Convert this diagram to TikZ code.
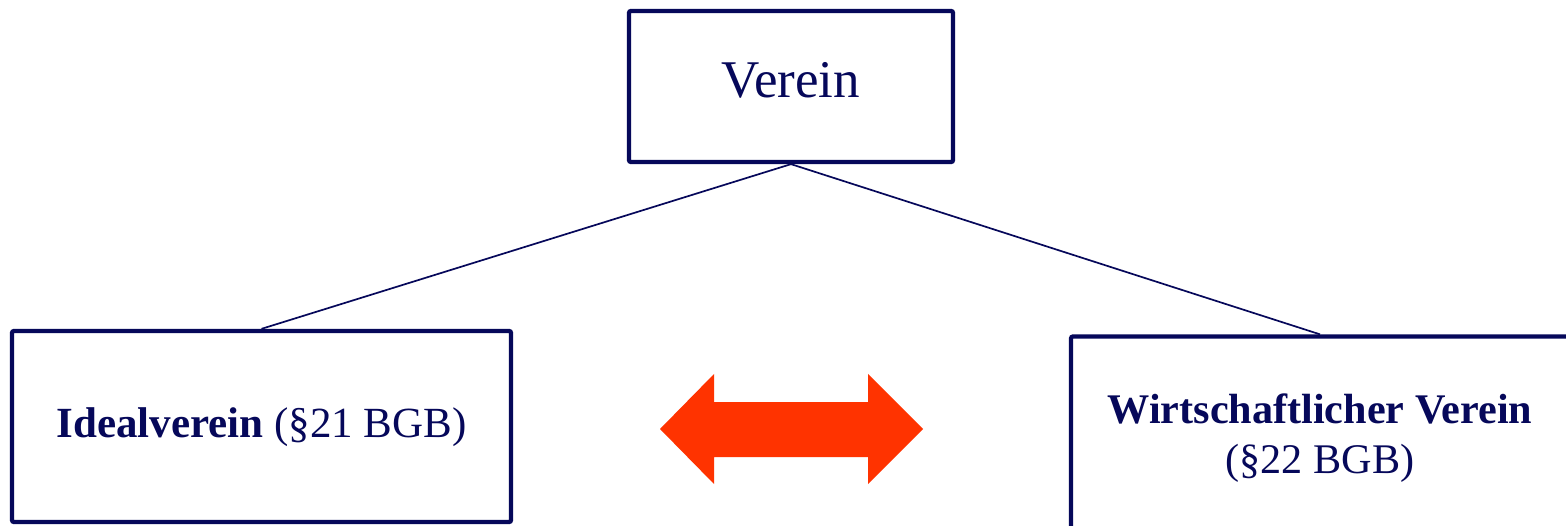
\documentclass[tikz,border=0pt]{standalone}
\usepackage{fontspec}
\setmainfont{Liberation Serif}
\definecolor{navy}{RGB}{6,8,90}
\definecolor{signal}{RGB}{255,51,0}
\begin{document}
\begin{tikzpicture}[x=1pt,y=-1pt,
  box/.style={draw=navy,line width=4.3pt,rounded corners=2pt,fill=white,
    text=navy,inner sep=0pt,align=center},
  link/.style={draw=navy,line width=1.7pt}]
\clip (0,0) rectangle (1566,526);
\fill[white] (0,0) rectangle (1566,526);

% top-level concept
\node[box,minimum width=324pt,minimum height=151pt,
  text height=36pt,text depth=13pt,font=\fontsize{53}{62}\selectfont]
  (verein) at (791,86.5) {Verein};

% the two kinds of association
\node[box,minimum width=499pt,minimum height=191pt,
  text height=30pt,text depth=8pt,font=\fontsize{43}{50}\selectfont]
  (ideal) at (261.5,426.5) {\textbf{Idealverein} (§21 BGB)};

\node[box,minimum width=498pt,minimum height=204pt,
  font=\fontsize{42.2}{50}\selectfont]
  (wirt) at (1320,438.5) {\textbf{Wirtschaftlicher Verein}\\(§22 BGB)};

% tree links
\draw[link] (verein.south) -- (ideal.north);
\draw[link] (verein.south) -- (wirt.north);

% two-headed arrow between the categories
\fill[signal] (660,429) -- (714,374) -- (714,402) -- (868,402) -- (868,374)
  -- (923,429) -- (868,484) -- (868,457) -- (714,457) -- (714,484) -- cycle;
\end{tikzpicture}
\end{document}
